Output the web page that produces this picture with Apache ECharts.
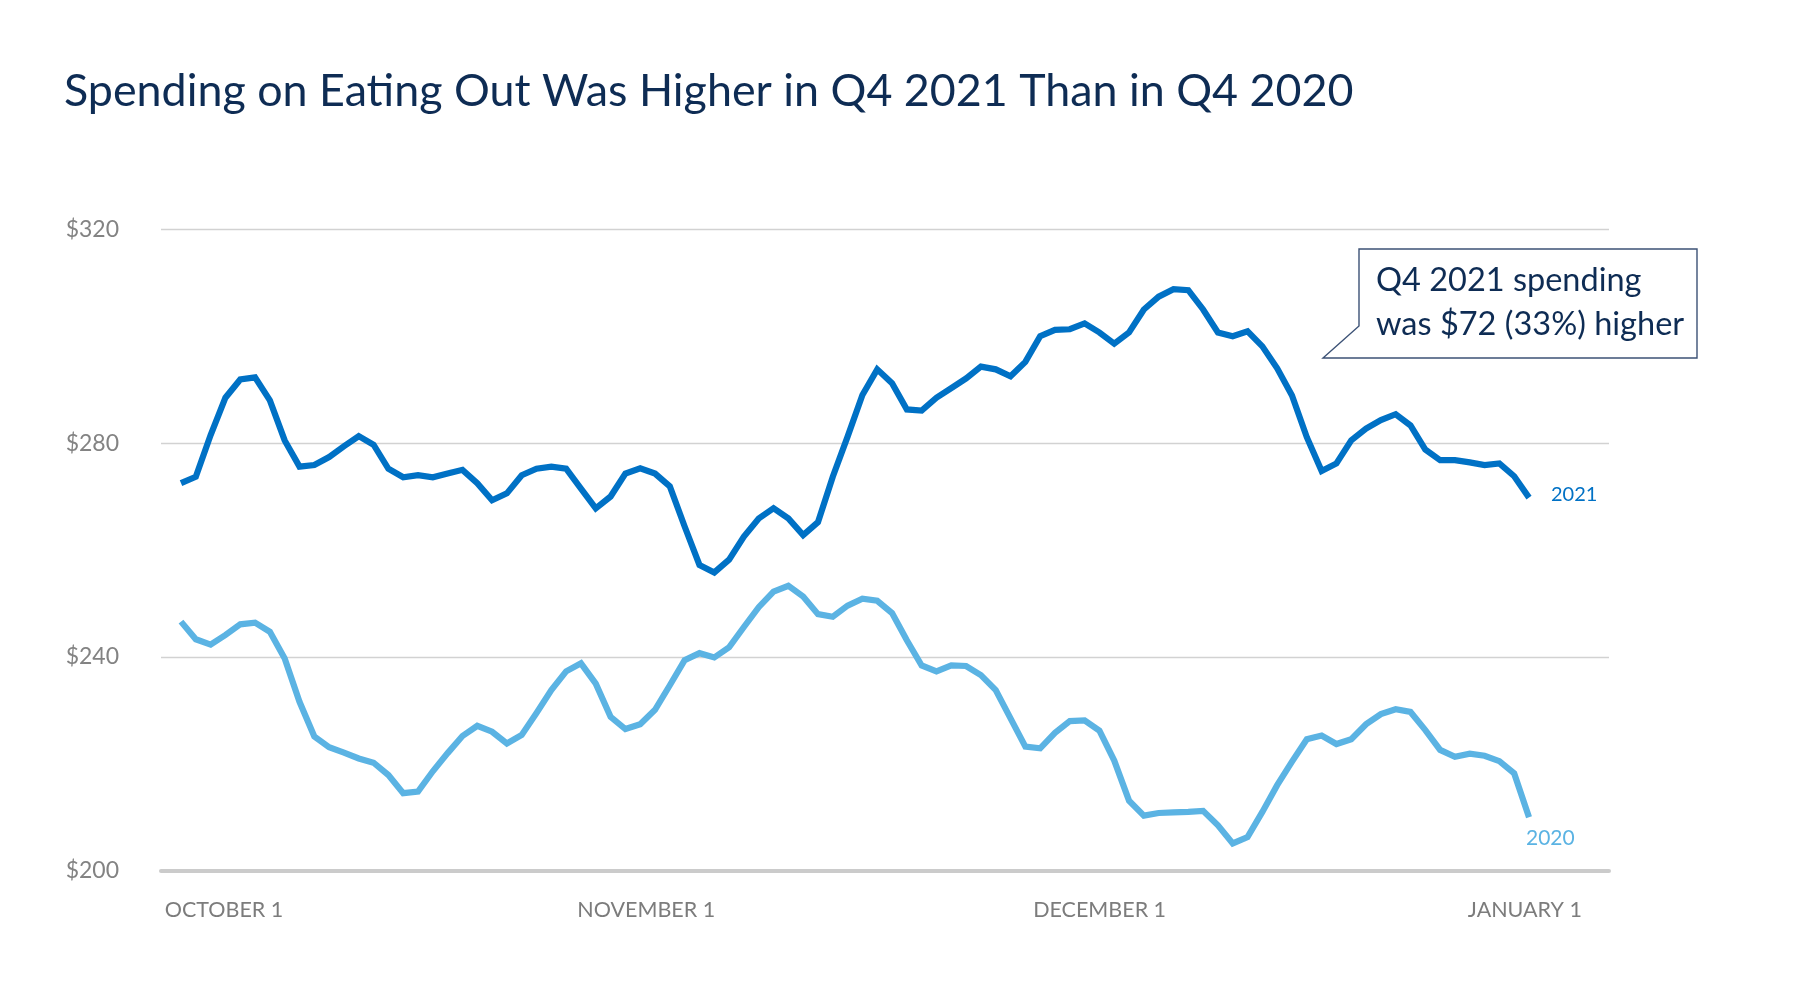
<!DOCTYPE html>
<html>
<head>
<meta charset="utf-8">
<script src="https://cdn.jsdelivr.net/npm/echarts@6/dist/echarts.min.js"></script>
<style>
html,body{margin:0;padding:0;background:#fff;}
#chart{width:1801px;height:1008px;}
</style>
</head>
<body>
<div id="chart"></div>
<script>
// Daily index 0 = October 1, 2021 ... 91 = December 31
const spending2021 = [
  272.5, 273.7, 281.5, 288.5, 291.9, 292.3, 288.0, 280.5, 275.6, 275.9,
  277.4, 279.4, 281.3, 279.7, 275.2, 273.6, 274.0, 273.6, 274.3, 275.0,
  272.5, 269.3, 270.6, 274.0, 275.2, 275.6, 275.2, 271.5, 267.8, 270.0,
  274.3, 275.3, 274.3, 271.9, 264.4, 257.2, 255.8, 258.2, 262.5, 265.9,
  267.8, 265.9, 262.8, 265.2, 273.7, 281.2, 289.0, 293.8, 291.2, 286.3,
  286.1, 288.5, 290.3, 292.1, 294.3, 293.8, 292.5, 295.2, 300.0, 301.2,
  301.3, 302.4, 300.7, 298.6, 300.7, 305.0, 307.4, 308.8, 308.6, 305.0,
  300.7, 300.0, 300.9, 298.1, 294.0, 288.9, 281.1, 274.8, 276.2, 280.5,
  282.7, 284.3, 285.4, 283.3, 278.8, 276.8, 276.8, 276.4, 275.9, 276.2,
  273.8, 269.8
];
const spending2020 = [
  246.6, 243.3, 242.3, 244.1, 246.1, 246.4, 244.7, 239.7, 231.6, 225.1,
  223.1, 222.1, 221.0, 220.2, 217.9, 214.5, 214.8, 218.6, 222.0, 225.2,
  227.1, 226.0, 223.8, 225.4, 229.5, 233.8, 237.3, 238.8, 235.0, 228.8,
  226.5, 227.4, 230.1, 234.7, 239.4, 240.7, 239.9, 241.8, 245.6, 249.3,
  252.2, 253.3, 251.3, 248.0, 247.5, 249.6, 250.9, 250.5, 248.2, 243.1,
  238.4, 237.3, 238.4, 238.3, 236.6, 233.8, 228.5, 223.2, 222.9, 225.8,
  228.0, 228.1, 226.2, 220.6, 213.1, 210.3, 210.8, 210.9, 211.0, 211.2,
  208.5, 205.1, 206.3, 211.0, 216.0, 220.4, 224.6, 225.3, 223.7, 224.6,
  227.4, 229.3, 230.2, 229.7, 226.3, 222.6, 221.3, 221.9, 221.5, 220.5,
  218.2, 210.0
];
const tickDays = [0, 31, 61, 92];
const tickLabels = ['OCTOBER 1', 'NOVEMBER 1', 'DECEMBER 1', 'JANUARY 1'];
const yTicks = [200, 240, 280, 320];
const seriesNames = ['2021', '2020'];
const titleText = 'Spending on Eating Out Was Higher in Q4 2021 Than in Q4 2020';
const noteLines = ['Q4 2021 spending', 'was $72 (33%) higher'];

const FONT = 'Lato, "Open Sans", sans-serif';
const NAVY = '#0e2c54';
const C2021 = '#0071c5';
const C2020 = '#5bb3e3';
const XLAB = '#7c7c7c';
const XFS = 21.5;

const labelStyle = ['a', 'b', 'c', 'd'];
const chart = echarts.init(document.getElementById('chart'), null, {renderer: 'canvas'});

const option = {
  backgroundColor: '#ffffff',
  animation: false,
  title: {
    text: titleText,
    left: 59,
    top: 64,
    textStyle: {fontFamily: FONT, fontSize: 44.8, fontWeight: 'normal', color: NAVY}
  },
  grid: {left: 161, right: 192, top: 229.3, bottom: 137.3},
  xAxis: {
    type: 'value',
    min: -1.35,
    max: 96.4,
    splitLine: {show: false},
    axisTick: {show: false},
    axisLine: {show: true, onZero: false, lineStyle: {color: '#cbcbcb', width: 4}},
    axisLabel: {
      customValues: tickDays,
      margin: 28,
      color: XLAB,
      fontFamily: FONT,
      fontSize: XFS,
      formatter: function (v) {
        const k = tickDays.indexOf(v);
        return '{' + labelStyle[k] + '|' + tickLabels[k] + '}';
      },
      rich: {
        a: {padding: [0, 0, 0, 86], fontFamily: FONT, fontSize: XFS, color: XLAB},
        b: {padding: [0, 0, 0, 12], fontFamily: FONT, fontSize: XFS, color: XLAB},
        c: {padding: [0, 0, 0, 30], fontFamily: FONT, fontSize: XFS, color: XLAB},
        d: {padding: [0, 38, 0, 0], fontFamily: FONT, fontSize: XFS, color: XLAB}
      }
    }
  },
  yAxis: {
    type: 'value',
    min: yTicks[0],
    max: yTicks[yTicks.length - 1],
    interval: yTicks[1] - yTicks[0],
    axisLine: {show: false},
    axisTick: {show: false},
    splitLine: {lineStyle: {color: '#d2d2d2', width: 1.3}},
    axisLabel: {
      margin: 42,
      color: '#838383',
      fontFamily: FONT,
      fontSize: 23,
      formatter: function (v) { return '$' + v; }
    }
  },
  series: [
    {
      name: seriesNames[0],
      type: 'line',
      data: spending2021.map(function (v, i) { return [i, v]; }),
      showSymbol: false,
      symbol: 'none',
      z: 3,
      lineStyle: {color: C2021, width: 6.2, join: 'miter'},
      endLabel: {
        show: true,
        formatter: seriesNames[0],
        color: C2021,
        fontFamily: FONT,
        fontSize: 20,
        distance: 22,
        offset: [0, -3]
      }
    },
    {
      name: seriesNames[1],
      type: 'line',
      data: spending2020.map(function (v, i) { return [i, v]; }),
      showSymbol: false,
      symbol: 'none',
      z: 2,
      lineStyle: {color: C2020, width: 6.2, join: 'miter'},
      endLabel: {
        show: true,
        formatter: seriesNames[1],
        color: C2020,
        fontFamily: FONT,
        fontSize: 21,
        distance: 0,
        offset: [-3, 21]
      }
    }
  ],
  graphic: [
    {
      type: 'polygon',
      z: 10,
      shape: {points: [[1359, 249], [1697, 249], [1697, 358], [1323, 358], [1359, 326]]},
      style: {fill: '#ffffff', stroke: '#3c5276', lineWidth: 1.4}
    },
    {
      type: 'text',
      z: 11,
      left: 1376,
      top: 264.5,
      style: {text: noteLines[0], fontFamily: FONT, fontSize: 32.5, fill: NAVY}
    },
    {
      type: 'text',
      z: 11,
      left: 1376,
      top: 308.5,
      style: {text: noteLines[1], fontFamily: FONT, fontSize: 32.5, fill: NAVY}
    }
  ]
};
chart.setOption(option);
</script>
</body>
</html>
